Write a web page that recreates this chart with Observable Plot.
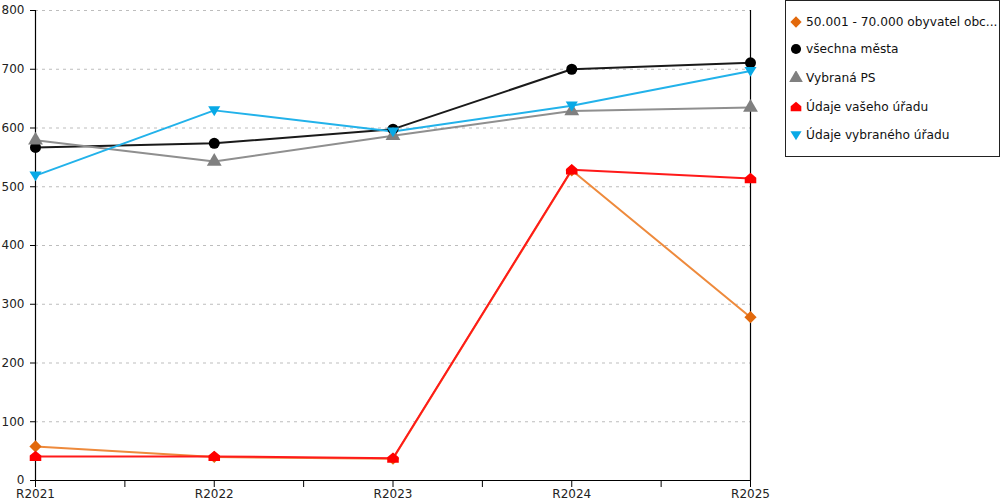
<!DOCTYPE html>
<html>
<head>
<meta charset="utf-8">
<script src="https://cdn.jsdelivr.net/npm/d3@7"></script>
<script src="https://cdn.jsdelivr.net/npm/@observablehq/plot@0.6"></script>
<style>
  body { margin: 0; background: #fff; font-family: "DejaVu Sans", Verdana, sans-serif; }
  #wrap { position: relative; width: 1000px; height: 500px; }
  #legend { position: absolute; left: 785px; top: 0px; width: 213px; height: 155px; border: 1px solid #222; background: #fff; font-size: 12.2px; color: #111; }
  .item { position: absolute; left: 0; height: 16px; display: flex; align-items: center; white-space: nowrap; }
  .item svg { margin-left: 3px; margin-right: 3px; }
</style>
</head>
<body>
<div id="wrap"><div id="chart"></div><div id="legend"></div></div>
<script>
const years = ["R2021", "R2022", "R2023", "R2024", "R2025"];
const seriesNames = ["50.001 - 70.000 obyvatel obc...", "všechna města", "Vybraná PS", "Údaje vašeho úřadu", "Údaje vybraného úřadu"];
const values50k = [58, 40, 37, 528, 278];
const valuesAll = [567, 574, 598, 700, 711];
const valuesPS = [579, 543, 587, 629, 635];
const valuesOffice = [41, 41, 38, 529, 514];
const valuesSelected = [519, 630, 594, 638, 697];
const yTicks = [0, 100, 200, 300, 400, 500, 600, 700, 800];

const downTriangle = {
  draw(ctx, size) {
    const r = Math.sqrt(size / Math.PI);
    ctx.moveTo(-r * 1.1, -r * 0.75);
    ctx.lineTo(r * 1.1, -r * 0.75);
    ctx.lineTo(0, r * 1.05);
    ctx.closePath();
  }
};
const house = {
  draw(ctx, size) {
    const r = Math.sqrt(size / Math.PI);
    ctx.moveTo(0, -r * 1.05);
    ctx.lineTo(r * 1.05, -r * 0.15);
    ctx.lineTo(r * 1.05, r * 0.85);
    ctx.lineTo(-r * 1.05, r * 0.85);
    ctx.lineTo(-r * 1.05, -r * 0.15);
    ctx.closePath();
  }
};

const series = [
  {name: seriesNames[0], values: values50k, line: "#EE8A3C", fill: "#E2690C", symbol: "diamond2", r: 5.5},
  {name: seriesNames[1], values: valuesAll, line: "#1a1a1a", fill: "#000000", symbol: "circle", r: 5.5},
  {name: seriesNames[2], values: valuesPS, line: "#8f8f8f", fill: "#808080", symbol: "triangle", r: 5.5},
  {name: seriesNames[3], values: valuesOffice, line: "#FF1a1a", fill: "#FF0000", symbol: house, r: 5.5},
  {name: seriesNames[4], values: valuesSelected, line: "#22B2EA", fill: "#08A9E6", symbol: downTriangle, r: 5.5}
];

const marks = [
  Plot.gridY(yTicks.filter(d => d > 0), {stroke: "#bdbdbd", strokeOpacity: 1, strokeDasharray: "3,4"}),
  Plot.axisY({ticks: yTicks, tickSize: 5, tickPadding: 6, fontSize: 12, label: null, fill: "#222"}),
  Plot.axisX({ticks: [0, 1, 2, 3, 4], tickFormat: i => years[i], tickSize: 7, tickPadding: 2, fontSize: 12, label: null, fill: "#222"}),
  Plot.axisX({ticks: [0.5, 1.5, 2.5, 3.5], tickFormat: () => "", tickSize: 7, label: null}),
  Plot.ruleX([0, 4], {stroke: "#000", strokeWidth: 1.2}),
  Plot.ruleY([0], {stroke: "#000", strokeWidth: 1.2})
];

for (const s of series) {
  const rows = years.map((y, i) => ({i, value: s.values[i]}));
  marks.push(Plot.line(rows, {x: "i", y: "value", stroke: s.line, strokeWidth: 2}));
}
for (const s of series) {
  const rows = years.map((y, i) => ({i, value: s.values[i]}));
  marks.push(Plot.dot(rows, {x: "i", y: "value", fill: s.fill, stroke: "none", symbol: () => s.symbol, r: s.r}));
}

const chart = Plot.plot({
  width: 1000,
  height: 500,
  marginLeft: 35,
  marginRight: 250,
  marginTop: 10,
  marginBottom: 20,
  style: {fontFamily: "'DejaVu Sans', Verdana, sans-serif", background: "#fff", overflow: "visible"},
  x: {domain: [0, 4]},
  y: {domain: [0, 800]},
  symbol: {type: "identity"},
  marks
});
document.getElementById("chart").appendChild(chart);

// legend
const legend = document.getElementById("legend");
const legendY = [13, 40, 69, 98, 126];
series.forEach((s, k) => {
  const div = document.createElement("div");
  div.className = "item";
  div.style.top = legendY[k] + "px";
  const svg = d3.create("svg").attr("width", 14).attr("height", 14);
  let symObj = s.symbol;
  if (typeof symObj === "string") {
    symObj = {diamond2: d3.symbolDiamond2, circle: d3.symbolCircle, triangle: d3.symbolTriangle}[symObj];
  }
  svg.append("path")
    .attr("transform", "translate(7,7)")
    .attr("fill", s.fill)
    .attr("d", d3.symbol(symObj, Math.PI * s.r * s.r * 0.85)());
  div.appendChild(svg.node());
  const span = document.createElement("span");
  span.textContent = s.name;
  div.appendChild(span);
  legend.appendChild(div);
});
</script>
</body>
</html>
